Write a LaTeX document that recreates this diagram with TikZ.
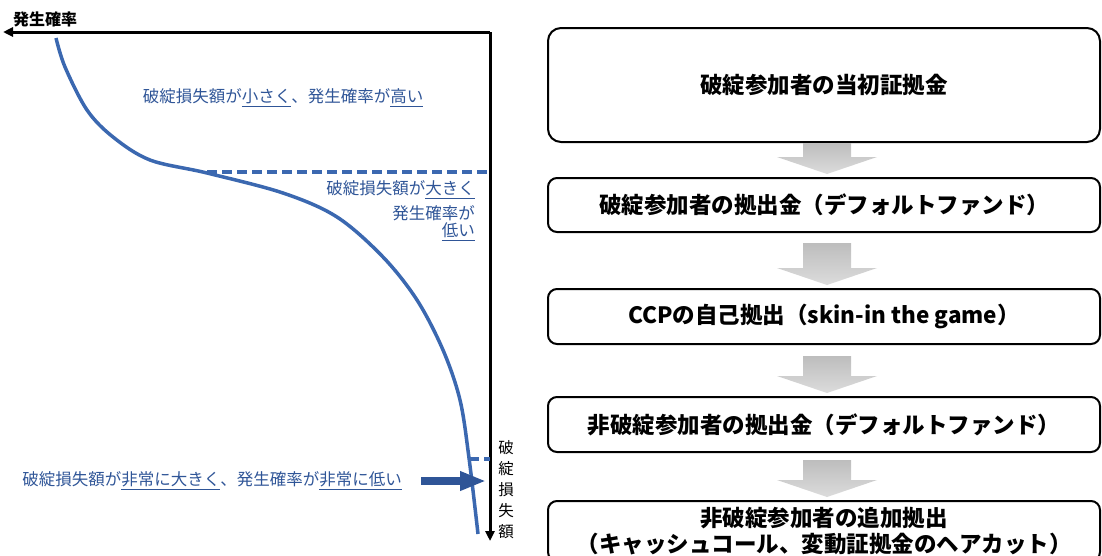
\documentclass[tikz,border=0pt]{standalone}
\usepackage{fontspec}
\newfontfamily\jp{Noto Sans CJK JP}
\usetikzlibrary{arrows.meta,calc}
\definecolor{curveblue}{HTML}{3B68B0}
\definecolor{textblue}{HTML}{2F5597}
\definecolor{grayA}{HTML}{BDBDBD}
\definecolor{grayB}{HTML}{DCDCDC}
\newcommand\blueul[1]{\leavevmode\setbox0\hbox{#1}\rlap{\rule[-4pt]{\wd0}{1.1pt}}\box0}
% block arrow between two boxes: from node, to node, length
\newcommand\grayarrow[3]{%
  \path[grayarrowstyle]
    ($(#2.north)+(-21,-3-#3)$) -- ($(#2.north)+(27,-3-#3)$) --
    ($(#2.north)+(27,-20)$) -- ($(#2.north)+(53,-20)$) --
    ($(#2.north)+(3,-3)$) --
    ($(#2.north)+(-47,-20)$) -- ($(#2.north)+(-21,-20)$) -- cycle;}
\begin{document}
\begin{tikzpicture}[x=1pt,y=-1pt,
  box/.style={draw=black, line width=2pt, rounded corners=9pt,
    minimum width=552pt, inner sep=0pt, align=center,
    font=\jp\bfseries\fontsize{22.5}{26}\selectfont},
  bluetext/.style={text=textblue, inner sep=0pt,
    font=\jp\fontsize{16.5}{20}\selectfont},
  axisline/.style={draw=black, line width=3pt,
    -{Triangle[length=10pt,width=9pt]}},
  curveline/.style={draw=curveblue, line width=3.5pt},
  dashblue/.style={draw=curveblue, line width=3.5pt, dash pattern=on 10pt off 5pt},
  grayarrowstyle/.style={top color=grayA, bottom color=grayB, draw=none},
  bluearrow/.style={draw=textblue, line width=8pt,
    -{Triangle[length=26pt,width=18pt]}}]

\useasboundingbox (0,0) rectangle (1102,555);
\clip (0,0) rectangle (1102,555);

% ---------- left: curve chart ----------
\coordinate (corner) at (490,32);
\coordinate (xend) at (3,32);
\coordinate (yend) at (490,541);
\draw[axisline] (corner) -- (xend);
\draw[axisline] (corner) -- (yend);

\node[font=\jp\bfseries\fontsize{16}{18}\selectfont, inner sep=0pt] (xlab) at (45,19) {発生確率};
\node[font=\jp\fontsize{15.5}{21}\selectfont, align=center, inner sep=0pt] (ylab) at (506,490) {破\\綻\\損\\失\\額};

\draw[curveline] plot[smooth, tension=0.55] coordinates {
  (56,38) (65,67) (87,110) (113,137) (150,160) (207,173) (283,193)
  (337,217) (383,257) (417,300) (443,350) (460,400) (469,458) (478,534)};

\coordinate (d1a) at (207,172);
\coordinate (d1b) at (490,172);
\draw[dashblue] (d1a) -- (d1b);
\coordinate (d2a) at (469,459);
\coordinate (d2b) at (490,459);
\draw[dashblue] (d2a) -- (d2b);

\node[bluetext] (t1) at (283,98) {破綻損失額が\blueul{小さく}、発生確率が\blueul{高い}};
\node[bluetext, anchor=east] (t2a) at (475,190) {破綻損失額が\blueul{大きく}};
\node[bluetext, anchor=east] (t2b) at (475,213) {発生確率が};
\node[bluetext, anchor=east] (t2c) at (475,232) {\blueul{低い}};
\node[bluetext] (t3) at (212,481) {破綻損失額が\blueul{非常に大きく}、発生確率が\blueul{非常に低い}};

\coordinate (ar1) at (421,481);
\coordinate (ar2) at (486,481);
\draw[bluearrow] (ar1) -- (ar2);

% ---------- right: waterfall ----------
\node[box, rounded corners=13pt, minimum height=114pt] (b1) at (824,85) {破綻参加者の当初証拠金};
\node[box, minimum height=54pt] (b2) at (824,205) {破綻参加者の拠出金（デフォルトファンド）};
\node[box, minimum height=55pt] (b3) at (824,316.5) {CCPの自己拠出（skin-in the game）};
\node[box, minimum height=55pt] (b4) at (824,424.5) {非破綻参加者の拠出金（デフォルトファンド）};
\node[box, minimum height=60pt] (b5) at (824,531) {非破綻参加者の追加拠出\\（キャッシュコール、変動証拠金のヘアカット）};

\grayarrow{b1}{b2}{31}
\grayarrow{b2}{b3}{42}
\grayarrow{b3}{b4}{37}
\grayarrow{b4}{b5}{37}
\end{tikzpicture}
\end{document}
